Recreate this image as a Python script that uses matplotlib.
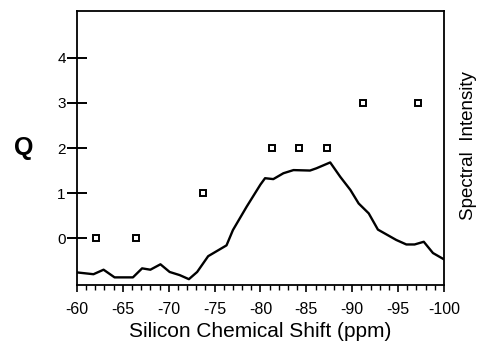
import numpy as np
import matplotlib
matplotlib.use("Agg")
import matplotlib.pyplot as plt
from matplotlib.ticker import MultipleLocator

plt.rcParams['font.family'] = ['Liberation Sans', 'DejaVu Sans']
plt.rcParams['axes.unicode_minus'] = False

# Q assignments (open squares)
q_shift = [-62.1, -66.4, -73.7, -81.3, -84.2, -87.2, -91.2, -97.2]
q_value = [0, 0, 1, 2, 2, 2, 3, 3]

# 29Si spectrum trace, plotted on the Q scale
spec_shift = [-60.0, -61.8, -62.9, -64.1, -66.1, -67.1, -68.0, -69.1, -70.1,
              -71.2, -72.2, -73.1, -74.3, -76.3, -77.0, -78.5, -80.0, -80.5,
              -81.4, -82.5, -83.6, -85.4, -86.1, -87.6, -88.7, -89.8, -90.7,
              -91.8, -92.8, -94.8, -95.9, -96.8, -97.8, -98.8, -100.0]
spec_int = [-0.76, -0.80, -0.70, -0.87, -0.87, -0.67, -0.70, -0.58, -0.75,
            -0.82, -0.91, -0.75, -0.40, -0.16, 0.18, 0.70, 1.19, 1.33,
            1.31, 1.44, 1.51, 1.50, 1.55, 1.68, 1.36, 1.07, 0.77,
            0.55, 0.19, -0.04, -0.14, -0.14, -0.08, -0.33, -0.47]

fig = plt.figure(figsize=(4.81, 3.43), dpi=100)
ax = fig.add_axes([0.160, 0.169, 0.763, 0.799])

ax.plot(spec_shift, spec_int, color='black', lw=1.7)
ax.plot(q_shift, q_value, ls='none', marker='s', ms=5, mfc='white',
        mec='black', mew=1.4)

ax.set_xlim(-60, -100)
ax.set_ylim(-1.04, 5.04)
ax.set_xticks(np.arange(-60, -101, -5))
ax.xaxis.set_minor_locator(MultipleLocator(1))
ax.set_yticks([0, 1, 2, 3, 4])

ax.tick_params(axis='x', which='major', direction='out', length=5, width=1.2,
               labelsize=11.5, pad=7)
ax.tick_params(axis='x', which='minor', direction='out', length=3.5, width=1)
ax.tick_params(axis='y', which='major', direction='inout', length=14, width=1.4,
               labelsize=11, pad=1)
for s in ax.spines.values():
    s.set_linewidth(1.3)

ax.set_xlabel('Silicon Chemical Shift (ppm)', fontsize=15, labelpad=3.5)
ax.set_ylabel('Q', fontsize=18, fontweight='bold', rotation=0,
              ha='center', va='center')
ax.yaxis.set_label_coords(-0.145, 0.5)
fig.text(0.975, 0.577, 'Spectral  Intensity', rotation=90, fontsize=13.5,
         ha='center', va='center')

fig.savefig('out.png', dpi=100)
